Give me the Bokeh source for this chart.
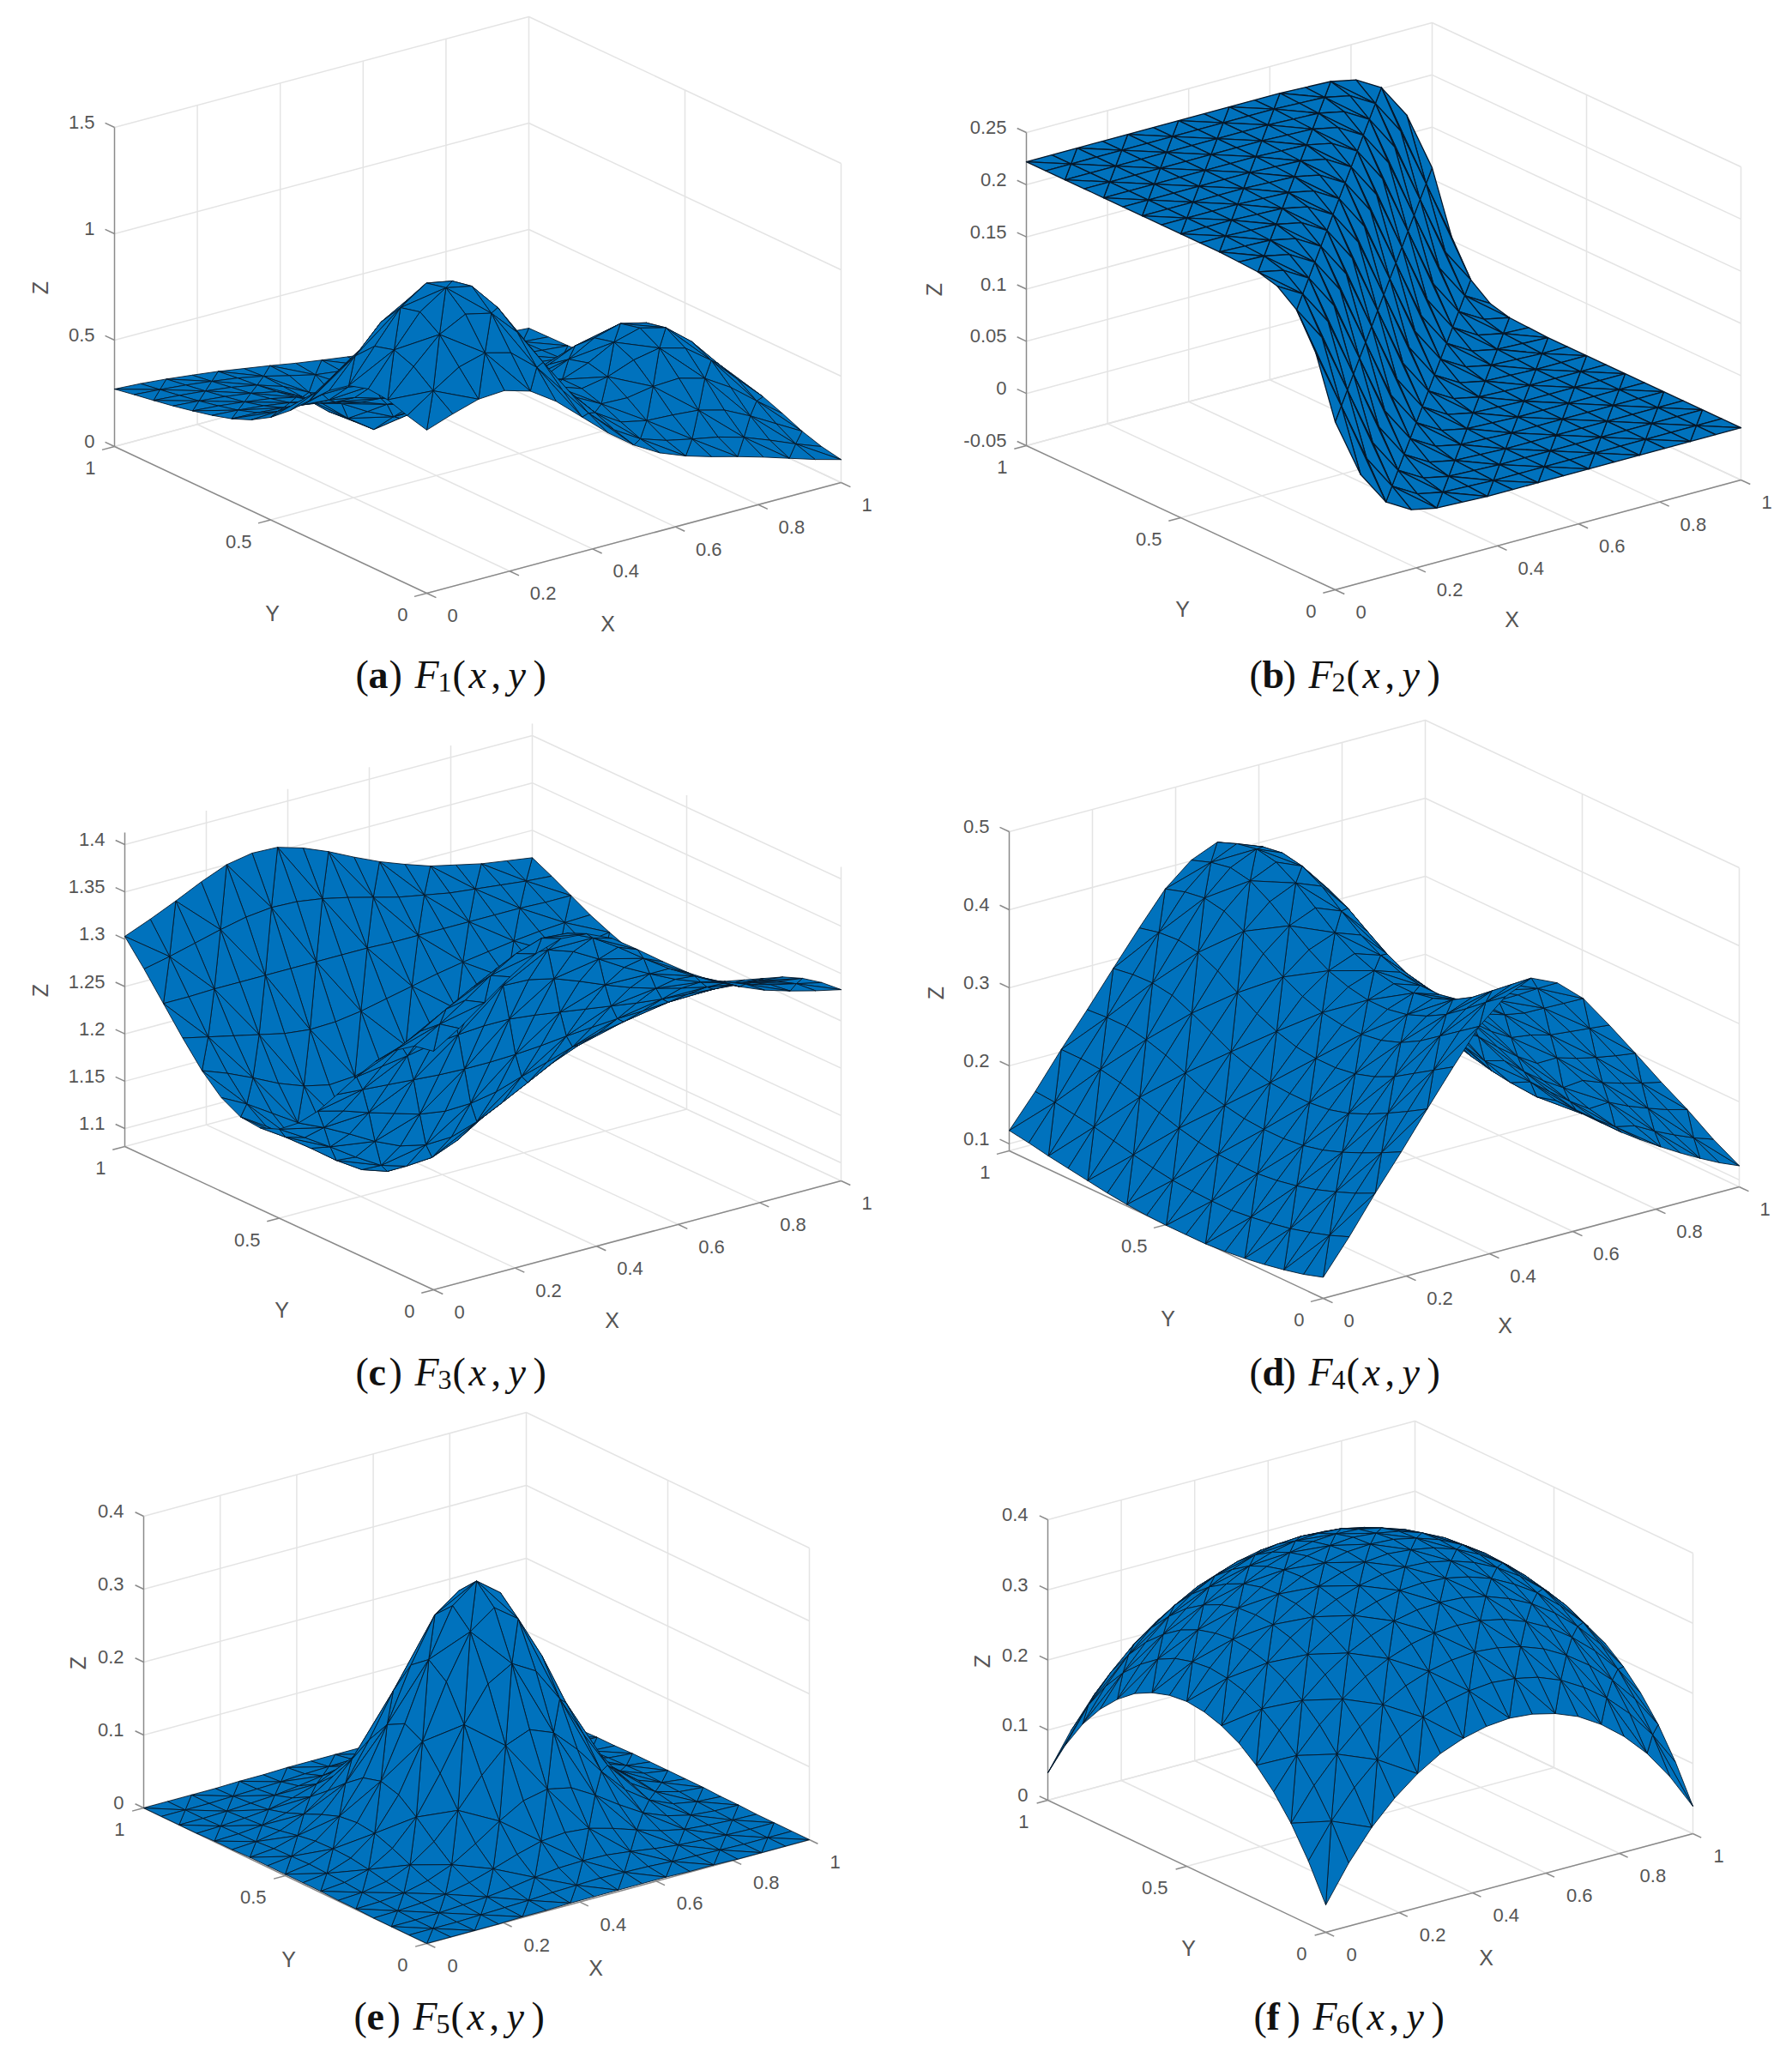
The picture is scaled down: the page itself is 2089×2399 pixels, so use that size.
from bokeh.core.properties import value
from bokeh.embed import file_html
from bokeh.layouts import column, row
from bokeh.models import ColumnDataSource, Range1d
from bokeh.plotting import figure
from bokeh.resources import INLINE
import math

F1_Z = [
    [.767, .810, .847, .855, .820, .739, .633, .526, .436, .367, .320, .284, .252, .217, .179, .141, .108],
    [.792, .876, .955, .989, .957, .856, .715, .576, .464, .390, .350, .324, .301, .267, .221, .171, .126],
    [.823, .947, 1.065, 1.128, 1.100, .978, .804, .631, .503, .426, .400, .394, .384, .352, .292, .223, .155],
    [.831, .982, 1.128, 1.209, 1.184, 1.051, .856, .666, .532, .468, .464, .485, .491, .458, .383, .287, .195],
    [.803, .956, 1.105, 1.188, 1.165, 1.034, .844, .660, .539, .497, .520, .566, .590, .557, .467, .347, .231],
    [.737, .867, .994, 1.064, 1.042, .926, .762, .608, .515, .497, .542, .607, .641, .610, .512, .378, .249],
    [.648, .740, .829, .875, .853, .762, .637, .524, .461, .463, .516, .584, .619, .590, .496, .367, .241],
    [.557, .611, .660, .681, .661, .594, .508, .433, .393, .401, .449, .503, .530, .504, .424, .314, .208],
    [.482, .506, .525, .527, .505, .458, .402, .352, .327, .331, .361, .395, .408, .384, .322, .240, .162],
    [.427, .433, .433, .423, .402, .366, .326, .289, .268, .267, .278, .290, .290, .268, .224, .170, .117],
    [.389, .385, .376, .361, .338, .305, .262, .225, .210, .211, .213, .211, .202, .181, .151, .116, .084],
    [.362, .354, .342, .324, .299, .255, .185, .128, .127, .155, .167, .159, .146, .128, .106, .084, .063],
    [.340, .331, .317, .300, .274, .213, .110, .025, .045, .108, .137, .131, .116, .099, .081, .065, .051],
    [.320, .311, .299, .282, .257, .200, .099, .019, .037, .097, .123, .116, .101, .085, .069, .056, .045],
    [.303, .294, .282, .267, .245, .206, .146, .095, .094, .117, .120, .108, .092, .076, .063, .051, .040],
    [.287, .278, .267, .252, .235, .211, .181, .153, .138, .130, .117, .102, .086, .071, .059, .048, .038],
    [.270, .263, .252, .238, .223, .204, .185, .164, .146, .129, .113, .096, .081, .067, .055, .045, .036],
]
F2_Z = [
    [.111, .054, .021, .007, .002, .001, 0, 0, 0, 0, 0, 0, 0, 0, 0, 0, 0],
    [.168, .111, .054, .021, .007, .002, .001, 0, 0, 0, 0, 0, 0, 0, 0, 0, 0],
    [.201, .168, .111, .054, .021, .007, .002, .001, 0, 0, 0, 0, 0, 0, 0, 0, 0],
    [.215, .201, .168, .111, .054, .021, .007, .002, .001, 0, 0, 0, 0, 0, 0, 0, 0],
    [.220, .215, .201, .168, .111, .054, .021, .007, .002, .001, 0, 0, 0, 0, 0, 0, 0],
    [.221, .220, .215, .201, .168, .111, .054, .021, .007, .002, .001, 0, 0, 0, 0, 0, 0],
    [.222, .221, .220, .215, .201, .168, .111, .054, .021, .007, .002, .001, 0, 0, 0, 0, 0],
    [.222, .222, .221, .220, .215, .201, .168, .111, .054, .021, .007, .002, .001, 0, 0, 0, 0],
    [.222, .222, .222, .221, .220, .215, .201, .168, .111, .054, .021, .007, .002, .001, 0, 0, 0],
    [.222, .222, .222, .222, .221, .220, .215, .201, .168, .111, .054, .021, .007, .002, .001, 0, 0],
    [.222, .222, .222, .222, .222, .221, .220, .215, .201, .168, .111, .054, .021, .007, .002, .001, 0],
    [.222, .222, .222, .222, .222, .222, .221, .220, .215, .201, .168, .111, .054, .021, .007, .002, .001],
    [.222, .222, .222, .222, .222, .222, .222, .221, .220, .215, .201, .168, .111, .054, .021, .007, .002],
    [.222, .222, .222, .222, .222, .222, .222, .222, .221, .220, .215, .201, .168, .111, .054, .021, .007],
    [.222, .222, .222, .222, .222, .222, .222, .222, .222, .221, .220, .215, .201, .168, .111, .054, .021],
    [.222, .222, .222, .222, .222, .222, .222, .222, .222, .222, .221, .220, .215, .201, .168, .111, .054],
    [.222, .222, .222, .222, .222, .222, .222, .222, .222, .222, .222, .221, .220, .215, .201, .168, .111],
]
F3_Z = [
    [1.333, 1.350, 1.370, 1.390, 1.407, 1.416, 1.414, 1.402, 1.383, 1.363, 1.344, 1.328, 1.315, 1.304, 1.296, 1.289, 1.283],
    [1.329, 1.345, 1.363, 1.382, 1.398, 1.407, 1.405, 1.393, 1.376, 1.357, 1.339, 1.324, 1.311, 1.301, 1.293, 1.287, 1.281],
    [1.315, 1.328, 1.344, 1.359, 1.373, 1.380, 1.378, 1.369, 1.354, 1.338, 1.324, 1.311, 1.301, 1.293, 1.286, 1.280, 1.276],
    [1.294, 1.303, 1.314, 1.324, 1.333, 1.338, 1.337, 1.331, 1.321, 1.310, 1.300, 1.292, 1.285, 1.279, 1.274, 1.271, 1.268],
    [1.268, 1.272, 1.276, 1.281, 1.284, 1.286, 1.286, 1.283, 1.279, 1.275, 1.271, 1.267, 1.264, 1.262, 1.260, 1.259, 1.257],
    [1.240, 1.238, 1.236, 1.234, 1.232, 1.231, 1.231, 1.232, 1.234, 1.237, 1.239, 1.241, 1.242, 1.244, 1.245, 1.245, 1.246],
    [1.213, 1.206, 1.197, 1.189, 1.181, 1.177, 1.178, 1.183, 1.192, 1.200, 1.209, 1.216, 1.221, 1.226, 1.230, 1.233, 1.235],
    [1.191, 1.179, 1.165, 1.150, 1.138, 1.132, 1.133, 1.142, 1.155, 1.169, 1.183, 1.194, 1.204, 1.211, 1.218, 1.222, 1.226],
    [1.175, 1.159, 1.142, 1.124, 1.108, 1.100, 1.102, 1.113, 1.130, 1.148, 1.165, 1.179, 1.191, 1.201, 1.209, 1.215, 1.220],
    [1.167, 1.150, 1.131, 1.111, 1.094, 1.085, 1.087, 1.099, 1.118, 1.138, 1.156, 1.172, 1.185, 1.196, 1.205, 1.211, 1.217],
    [1.169, 1.152, 1.133, 1.114, 1.097, 1.089, 1.090, 1.102, 1.120, 1.140, 1.158, 1.174, 1.187, 1.197, 1.206, 1.212, 1.218],
    [1.180, 1.166, 1.149, 1.132, 1.118, 1.110, 1.112, 1.122, 1.138, 1.155, 1.171, 1.184, 1.195, 1.204, 1.212, 1.217, 1.222],
    [1.199, 1.189, 1.177, 1.164, 1.154, 1.148, 1.150, 1.157, 1.168, 1.181, 1.192, 1.202, 1.210, 1.217, 1.222, 1.226, 1.230],
    [1.224, 1.218, 1.212, 1.206, 1.200, 1.197, 1.198, 1.202, 1.208, 1.214, 1.220, 1.225, 1.229, 1.233, 1.236, 1.238, 1.239],
    [1.251, 1.251, 1.252, 1.252, 1.252, 1.252, 1.252, 1.252, 1.252, 1.251, 1.251, 1.251, 1.251, 1.251, 1.251, 1.250, 1.250],
    [1.278, 1.284, 1.291, 1.298, 1.304, 1.307, 1.306, 1.302, 1.296, 1.289, 1.282, 1.277, 1.272, 1.269, 1.266, 1.263, 1.261],
    [1.303, 1.314, 1.326, 1.339, 1.350, 1.355, 1.354, 1.346, 1.335, 1.322, 1.310, 1.300, 1.291, 1.285, 1.279, 1.275, 1.271],
]
F4_Z = [
    [.118, .161, .208, .252, .298, .343, .386, .415, .430, .415, .386, .343, .298, .252, .208, .161, .118],
    [.110, .151, .196, .239, .283, .327, .368, .396, .410, .396, .368, .327, .283, .239, .196, .151, .110],
    [.104, .143, .186, .227, .269, .311, .350, .376, .390, .376, .350, .311, .269, .227, .186, .143, .104],
    [.099, .136, .177, .216, .256, .295, .332, .357, .370, .357, .332, .295, .256, .216, .177, .136, .099],
    [.095, .131, .170, .207, .245, .283, .318, .343, .355, .343, .318, .283, .245, .207, .170, .131, .095],
    [.092, .127, .165, .201, .238, .275, .309, .333, .345, .334, .307, .268, .226, .186, .150, .118, .092],
    [.090, .124, .162, .198, .235, .271, .305, .328, .340, .329, .302, .264, .223, .183, .148, .116, .090],
    [.090, .124, .162, .198, .235, .271, .305, .328, .340, .329, .302, .264, .223, .183, .148, .116, .090],
    [.090, .125, .163, .200, .237, .274, .309, .333, .345, .334, .306, .267, .225, .185, .149, .116, .090],
    [.091, .127, .167, .205, .244, .282, .318, .342, .355, .344, .312, .268, .219, .173, .136, .109, .091],
    [.093, .131, .173, .212, .253, .293, .331, .357, .370, .358, .325, .279, .227, .179, .140, .112, .093],
    [.096, .136, .181, .223, .266, .308, .349, .376, .390, .377, .342, .293, .238, .187, .146, .116, .096],
    [.100, .142, .189, .234, .279, .324, .366, .395, .410, .397, .360, .308, .250, .196, .153, .121, .100],
    [.104, .148, .196, .242, .290, .336, .380, .410, .425, .411, .373, .319, .259, .204, .159, .126, .104],
    [.108, .152, .201, .247, .294, .340, .385, .415, .430, .416, .378, .324, .264, .208, .163, .130, .108],
    [.113, .156, .203, .247, .293, .338, .381, .410, .425, .412, .374, .322, .264, .210, .166, .134, .113],
    [.117, .158, .203, .245, .289, .332, .373, .401, .415, .402, .367, .317, .261, .210, .168, .137, .117],
]
F5_Z = [
    [0, 0, 0, 0, .001, .001, .002, .002, .002, .002, .002, .001, .001, 0, 0, 0, 0],
    [0, 0, 0, .001, .002, .003, .005, .006, .007, .006, .005, .003, .002, .001, 0, 0, 0],
    [0, 0, .001, .003, .005, .009, .014, .018, .019, .018, .014, .009, .005, .003, .001, 0, 0],
    [0, .001, .003, .006, .013, .023, .034, .043, .046, .043, .034, .023, .013, .006, .003, .001, 0],
    [.001, .002, .005, .013, .026, .046, .068, .087, .094, .087, .068, .046, .026, .013, .005, .002, .001],
    [.001, .003, .009, .023, .046, .080, .119, .151, .164, .151, .119, .080, .046, .023, .009, .003, .001],
    [.002, .005, .014, .034, .068, .119, .177, .224, .243, .224, .177, .119, .068, .034, .014, .005, .002],
    [.002, .006, .018, .043, .087, .151, .224, .284, .308, .284, .224, .151, .087, .043, .018, .006, .002],
    [.002, .007, .019, .046, .094, .164, .243, .308, .333, .308, .243, .164, .094, .046, .019, .007, .002],
    [.002, .006, .018, .043, .087, .151, .224, .284, .308, .284, .224, .151, .087, .043, .018, .006, .002],
    [.002, .005, .014, .034, .068, .119, .177, .224, .243, .224, .177, .119, .068, .034, .014, .005, .002],
    [.001, .003, .009, .023, .046, .080, .119, .151, .164, .151, .119, .080, .046, .023, .009, .003, .001],
    [.001, .002, .005, .013, .026, .046, .068, .087, .094, .087, .068, .046, .026, .013, .005, .002, .001],
    [0, .001, .003, .006, .013, .023, .034, .043, .046, .043, .034, .023, .013, .006, .003, .001, 0],
    [0, 0, .001, .003, .005, .009, .014, .018, .019, .018, .014, .009, .005, .003, .001, 0, 0],
    [0, 0, 0, .001, .002, .003, .005, .006, .007, .006, .005, .003, .002, .001, 0, 0, 0],
    [0, 0, 0, 0, .001, .001, .002, .002, .002, .002, .002, .001, .001, 0, 0, 0, 0],
]
F6_Z = [
    [.039, .090, .132, .165, .191, .211, .224, .232, .235, .232, .224, .211, .191, .165, .132, .090, .039],
    [.090, .138, .177, .208, .232, .251, .264, .271, .274, .271, .264, .251, .232, .208, .177, .138, .090],
    [.132, .177, .213, .243, .266, .284, .296, .303, .306, .303, .296, .284, .266, .243, .213, .177, .132],
    [.165, .208, .243, .271, .294, .311, .323, .330, .332, .330, .323, .311, .294, .271, .243, .208, .165],
    [.191, .232, .266, .294, .316, .332, .344, .351, .353, .351, .344, .332, .316, .294, .266, .232, .191],
    [.211, .251, .284, .311, .332, .349, .360, .367, .369, .367, .360, .349, .332, .311, .284, .251, .211],
    [.224, .264, .296, .323, .344, .360, .371, .378, .380, .378, .371, .360, .344, .323, .296, .264, .224],
    [.232, .271, .303, .330, .351, .367, .378, .384, .387, .384, .378, .367, .351, .330, .303, .271, .232],
    [.235, .274, .306, .332, .353, .369, .380, .387, .389, .387, .380, .369, .353, .332, .306, .274, .235],
    [.232, .271, .303, .330, .351, .367, .378, .384, .387, .384, .378, .367, .351, .330, .303, .271, .232],
    [.224, .264, .296, .323, .344, .360, .371, .378, .380, .378, .371, .360, .344, .323, .296, .264, .224],
    [.211, .251, .284, .311, .332, .349, .360, .367, .369, .367, .360, .349, .332, .311, .284, .251, .211],
    [.191, .232, .266, .294, .316, .332, .344, .351, .353, .351, .344, .332, .316, .294, .266, .232, .191],
    [.165, .208, .243, .271, .294, .311, .323, .330, .332, .330, .323, .311, .294, .271, .243, .208, .165],
    [.132, .177, .213, .243, .266, .284, .296, .303, .306, .303, .296, .284, .266, .243, .213, .177, .132],
    [.090, .138, .177, .208, .232, .251, .264, .271, .274, .271, .264, .251, .232, .208, .177, .138, .090],
    [.039, .090, .132, .165, .191, .211, .224, .232, .235, .232, .224, .211, .191, .165, .132, .090, .039],
]

X_TICKS = [0, 0.2, 0.4, 0.6, 0.8, 1]
X_LABELS = ["0", "0.2", "0.4", "0.6", "0.8", "1"]
Y_TICKS = [0, 0.5, 1]
Y_LABELS = ["0", "0.5", "1"]
Z_TICKS = [
    [0, 0.5, 1, 1.5],
    [-0.05, 0, 0.05, 0.1, 0.15, 0.2, 0.25],
    [1.1, 1.15, 1.2, 1.25, 1.3, 1.35, 1.4],
    [0.1, 0.2, 0.3, 0.4, 0.5],
    [0, 0.1, 0.2, 0.3, 0.4],
    [0, 0.1, 0.2, 0.3, 0.4],
]
Z_LABELS = [
    ["0", "0.5", "1", "1.5"],
    ["-0.05", "0", "0.05", "0.1", "0.15", "0.2", "0.25"],
    ["1.1", "1.15", "1.2", "1.25", "1.3", "1.35", "1.4"],
    ["0.1", "0.2", "0.3", "0.4", "0.5"],
    ["0", "0.1", "0.2", "0.3", "0.4"],
    ["0", "0.1", "0.2", "0.3", "0.4"],
]
CAPTION_LETTERS = ["a", "b", "c", "d", "e", "f"]
CAPTION_SUBS = ["1", "2", "3", "4", "5", "6"]
SURFACES = [F1_Z, F2_Z, F3_Z, F4_Z, F5_Z, F6_Z]
Z_LIMITS = [(0, 1.5), (-0.05, 0.25), (1.081, 1.4127), (0.091, 0.5), (0, 0.4), (0, 0.4)]

# screen layout of each panel, in page pixels
CELLS = [
    (8, 1040, 8, 835), (1040, 2081, 8, 835),
    (8, 1040, 835, 1645), (1040, 2081, 835, 1645),
    (8, 1040, 1645, 2391), (1040, 2081, 1645, 2391),
]
PAGE_SHIFT = 8
CORNERS = [
    # left, front, right floor corners and the top of the z axis
    ((133, 520), (497, 691), (980, 562), 148),
    ((1196, 519), (1556, 687), (2029, 559), 154),
    ((145, 1336), (505, 1503), (980, 1376), 970),
    ((1176, 1341), (1542, 1513), (2027, 1383), 969),
    ((167, 2107), (497, 2265), (943, 2144), 1767),
    ((1221, 2098), (1545, 2252), (1973, 2137), 1771),
]
AXIS_NAMES = [
    ((708, 726), (317, 714), (46, 335)),
    ((1762, 721), (1378, 709), (1088, 337)),
    ((713, 1538), (328, 1526), (46, 1154)),
    ((1754, 1544), (1361, 1536), (1090, 1157)),
    ((694, 2293), (336, 2283), (90, 1938)),
    ((1732, 2281), (1385, 2270), (1144, 1936)),
]
CAPTIONS = [(414, 786), (1456, 786), (414, 1599), (1456, 1599), (412, 2350), (1461, 2350)]

SURFACE_COLOR = "#0072BD"
GRID_COLOR = "#e4e4e4"
AXIS_COLOR = "#8a8a8a"
TEXT_COLOR = "#555555"
TICK_FONT = "22px"
NAME_FONT = "25px"


def make_projection(panel):
    left, front, right, top = CORNERS[panel]
    zmin, zmax = Z_LIMITS[panel]

    def project(x, y, z):
        t = (z - zmin) / (zmax - zmin)
        sx = front[0] + x * (right[0] - front[0]) + y * (left[0] - front[0])
        sy = front[1] + x * (right[1] - front[1]) + y * (left[1] - front[1]) - t * (left[1] - top)
        return sx, sy

    return project


def add_walls(p, panel, project):
    zmin, zmax = Z_LIMITS[panel]
    xs, ys = [], []

    def line(*pts):
        xs.append([q[0] for q in pts])
        ys.append([q[1] for q in pts])

    for z in Z_TICKS[panel]:
        line(project(0, 1, z), project(1, 1, z), project(1, 0, z))
    for x in X_TICKS[1:]:
        line(project(x, 1, zmin), project(x, 1, zmax))
        line(project(x, 0, zmin), project(x, 1, zmin))
    for y in Y_TICKS:
        line(project(0, y, zmin), project(1, y, zmin))
    line(project(1, 0.5, zmin), project(1, 0.5, zmax))
    line(project(1, 0, zmin), project(1, 0, zmax))
    p.multi_line(xs, ys, line_color=GRID_COLOR, line_width=1.5)

    xs, ys = [], []
    line(project(0, 0, zmin), project(1, 0, zmin))
    line(project(0, 0, zmin), project(0, 1, zmin))
    line(project(0, 1, zmin), project(0, 1, zmax))
    for x in X_TICKS:
        line(project(x, 0, zmin), project(x, -0.03, zmin))
    for y in Y_TICKS:
        line(project(0, y, zmin), project(-0.03, y, zmin))
    for z in Z_TICKS[panel]:
        line(project(0, 1, z), project(0, 1.03, z))
    p.multi_line(xs, ys, line_color=AXIS_COLOR, line_width=1.5)


def add_surface(p, panel, project):
    rows = SURFACES[panel]
    n = len(rows) - 1
    xs, ys = [], []

    def tri(*nodes):
        pts = [project(i / n, j / n, rows[j][i]) for i, j in nodes]
        xs.append([q[0] for q in pts])
        ys.append([q[1] for q in pts])

    # far cells first so nearer ones paint over them
    for j in range(n - 1, -1, -1):
        for i in range(n - 1, -1, -1):
            if (i + j) % 2:
                tri((i + 1, j + 1), (i + 1, j), (i, j + 1))
                tri((i, j), (i + 1, j), (i, j + 1))
            else:
                tri((i + 1, j), (i + 1, j + 1), (i, j))
                tri((i, j + 1), (i + 1, j + 1), (i, j))
    cds = ColumnDataSource(dict(xs=xs, ys=ys))
    width = 1.3 if panel == 1 else 0.9
    p.patches("xs", "ys", source=cds, fill_color=SURFACE_COLOR, line_color="#06182a", line_width=width, line_join="round")


def add_labels(p, panel, project):
    zmin = Z_LIMITS[panel][0]
    kw = dict(text_color=TEXT_COLOR, text_font=value("Liberation Sans"), text_baseline="middle")

    tx, ty = [], []
    for x, lab in zip(X_TICKS, X_LABELS):
        sx, sy = project(x, 0, zmin)
        tx.append(sx + (39 if "." in lab else 30))
        ty.append(sy + 26)
    p.text(tx, ty, text=X_LABELS, text_align="center", text_font_size=TICK_FONT, **kw)

    tx, ty = [], []
    for y in Y_TICKS:
        sx, sy = project(0, y, zmin)
        tx.append(sx - 22)
        ty.append(sy + 25)
    p.text(tx, ty, text=Y_LABELS, text_align="right", text_font_size=TICK_FONT, **kw)

    tx, ty = [], []
    for z in Z_TICKS[panel]:
        sx, sy = project(0, 1, z)
        tx.append(sx - 23)
        ty.append(sy - 6)
    p.text(tx, ty, text=Z_LABELS[panel], text_align="right", text_font_size=TICK_FONT, **kw)

    (xn, yn, zn) = AXIS_NAMES[panel]
    p.text([xn[0]], [xn[1]], text=["X"], text_align="center", text_font_size=NAME_FONT, **kw)
    p.text([yn[0]], [yn[1]], text=["Y"], text_align="center", text_font_size=NAME_FONT, **kw)
    p.text([zn[0]], [zn[1]], text=["Z"], text_align="center", text_font_size=NAME_FONT, angle=math.pi / 2, **kw)


def add_caption(p, panel):
    x0, base = CAPTIONS[panel]
    kw = dict(text_color="#111111", text_font=value("Liberation Serif"), text_baseline="alphabetic", text_align="left")
    size = "46px"
    pieces = [
        ("(", 0, 0, "normal", size),
        (CAPTION_LETTERS[panel], 15, 0, "bold", size),
        (")", 39, 0, "normal", size),
        ("F", 69, 0, "italic", size),
        (CAPTION_SUBS[panel], 96, 9, "normal", "32px"),
        ("(", 113, 0, "normal", size),
        ("x", 132, 0, "italic", size),
        (",", 158, 0, "normal", size),
        ("y", 178, 0, "italic", size),
        (")", 207, 0, "normal", size),
    ]
    for text, dx, dy, style, font_size in pieces:
        p.text([x0 + dx], [base + dy], text=[text], text_font_style=style, text_font_size=font_size, **kw)


def make_panel(panel):
    x0, x1, y0, y1 = CELLS[panel]
    p = figure(
        width=x1 - x0,
        height=y1 - y0,
        x_range=Range1d(x0 - PAGE_SHIFT, x1 - PAGE_SHIFT),
        y_range=Range1d(y1 - PAGE_SHIFT, y0 - PAGE_SHIFT),
        x_axis_location=None,
        y_axis_location=None,
        output_backend="svg",
        toolbar_location=None,
        min_border=0,
    )
    p.grid.visible = False
    p.outline_line_color = None
    project = make_projection(panel)
    add_walls(p, panel, project)
    add_surface(p, panel, project)
    add_labels(p, panel, project)
    add_caption(p, panel)
    return p


panels = [make_panel(k) for k in range(6)]
page = column(
    row(panels[0], panels[1], spacing=0),
    row(panels[2], panels[3], spacing=0),
    row(panels[4], panels[5], spacing=0),
    spacing=0,
)
open("out.html", "w").write(file_html(page, INLINE))
